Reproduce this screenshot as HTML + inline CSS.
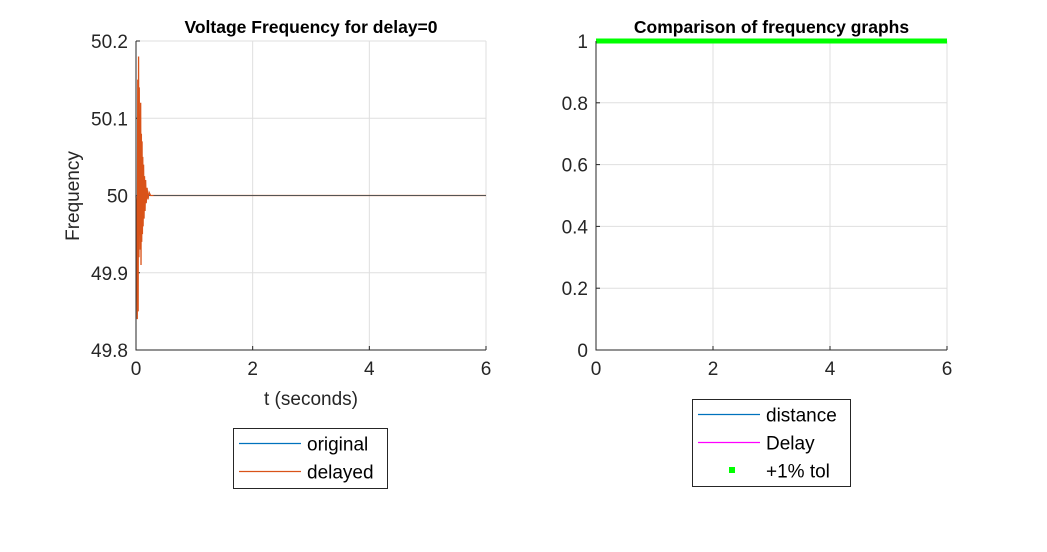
<!DOCTYPE html>
<html><head><meta charset="utf-8"><style>
body{margin:0;background:#fff;font-family:"Liberation Sans",sans-serif}
svg text{font-family:"Liberation Sans",sans-serif}
</style></head><body>
<svg id="s" width="1047" height="547" xmlns="http://www.w3.org/2000/svg">
<rect width="1047" height="547" fill="#fff"/>
</svg>
<script>
const tVals=[0,0.012,0.022,0.03,0.037,0.044,0.05,0.056,0.062,0.068,0.074,0.08,0.086,0.092,0.098,0.104,0.11,0.116,0.122,0.13,0.138,0.146,0.155,0.165,0.175,0.19,0.205,0.225,0.25,0.3,6];
const delayedVals=[50,49.98,49.84,50.15,49.85,50.18,49.92,50.14,49.95,50.1,49.93,50.12,49.91,50.08,49.94,50.07,49.95,50.05,49.96,50.04,49.97,50.025,49.98,50.02,49.99,50.01,49.995,50.004,50,50,50];
const originalT=[0,6];
const originalVals=[50,50];
const leftYTicks=[49.8,49.9,50,50.1,50.2];
const xTicks=[0,2,4,6];
const rightYTicks=[0,0.2,0.4,0.6,0.8,1];
const tolT=[0,6];
const tolVals=[1,1];
const NS="http://www.w3.org/2000/svg";
const svg=document.getElementById('s');
function mk(tag,attrs,parent){const e=document.createElementNS(NS,tag);for(const k in attrs)e.setAttribute(k,attrs[k]);(parent||svg).appendChild(e);return e;}
function axes(x0,x1,y0,y1,xmin,xmax,ymin,ymax,yt,name,title){
 const g=mk('g',{});
 
 
 const X=v=>x0+(v-xmin)/(xmax-xmin)*(x1-x0);
 const Y=v=>y1-(v-ymin)/(ymax-ymin)*(y1-y0);
 xTicks.forEach(v=>{const l=mk('line',{x1:X(v),x2:X(v),y1:y0,y2:y1,stroke:'#dfdfdf'},g);
  const t=mk('text',{x:X(v),y:y1+25,'text-anchor':'middle','font-size':19,fill:'#262626'},g);t.textContent=v;
  mk('line',{x1:X(v),x2:X(v),y1:y1,y2:y1-4,stroke:'#262626'},g);});
 yt.forEach(v=>{const l=mk('line',{x1:x0,x2:x1,y1:Y(v),y2:Y(v),stroke:'#dfdfdf'},g);
  const t=mk('text',{x:x0-8,y:Y(v)+7,'text-anchor':'end','font-size':19,fill:'#262626'},g);t.textContent=v;
  mk('line',{x1:x0,x2:x0+4,y1:Y(v),y2:Y(v),stroke:'#262626'},g);});
 const tt=mk('text',{x:(x0+x1)/2,y:y0-8,'text-anchor':'middle','font-size':17.5,'font-weight':'bold',fill:'#000'},g);tt.textContent=title;
 
 return {g,X,Y,x0,x1,y0,y1};
}
const A=axes(136,486,41,350,0,6,49.8,50.2,leftYTicks,'left-plot','Voltage Frequency for delay=0');
const pts=(T,V,a)=>T.map((t,i)=>a.X(t)+','+a.Y(V[i])).join(' ');
let p=mk('polyline',{points:pts(originalT,originalVals,A),fill:'none',stroke:'#0072bd','stroke-width':1},A.g);

p=mk('polyline',{points:pts(tVals,delayedVals,A),fill:'none',stroke:'#d95319','stroke-width':1.3},A.g);

p=mk('polyline',{points:pts([0.3,6],[50,50],A),fill:'none',stroke:'#555','stroke-width':1},A.g);

mk('path',{d:`M136 41V350H486`,fill:'none',stroke:'#262626'},A.g);
let t=mk('text',{x:311,y:405,'text-anchor':'middle','font-size':19,fill:'#262626'},A.g);t.textContent='t (seconds)';

t=mk('text',{x:0,y:0,'text-anchor':'middle','font-size':19,fill:'#262626',transform:'translate(79,196) rotate(-90)'},A.g);t.textContent='Frequency';


const B=axes(596,947,41,350,0,6,0,1,rightYTicks,'right-plot','Comparison of frequency graphs');
p=mk('polyline',{points:pts(tolT,tolVals,B),fill:'none',stroke:'#00ff00','stroke-width':5},B.g);

mk('path',{d:`M596 41V350H947`,fill:'none',stroke:'#262626'},B.g);

function legend(x,y,w,h,items,name){
 const g=mk('g',{});
 
 
 mk('rect',{x:x+0.5,y:y+0.5,width:w,height:h,fill:'#fff',stroke:'#262626'},g);
 items.forEach((it,i)=>{const cy=Math.round(y+15+i*28)+0.5;
  if(it.m)mk('rect',{x:x+37,y:cy-3.5,width:6,height:6,fill:it.c},g);
  else mk('line',{x1:x+6,x2:x+68,y1:cy,y2:cy,stroke:it.c,'stroke-width':1.2},g);
  const tx=mk('text',{x:x+74,y:cy+7,'font-size':19,fill:'#000'},g);tx.textContent=it.l;
  });
}
legend(233,428,154,60,[{c:'#0072bd',l:'original'},{c:'#d95319',l:'delayed'}],'left-legend');
legend(692,399,158,87,[{c:'#0072bd',l:'distance'},{c:'#ff00ff',l:'Delay'},{c:'#00ff00',l:'+1% tol',m:1}],'right-legend');
</script>
</body></html>
